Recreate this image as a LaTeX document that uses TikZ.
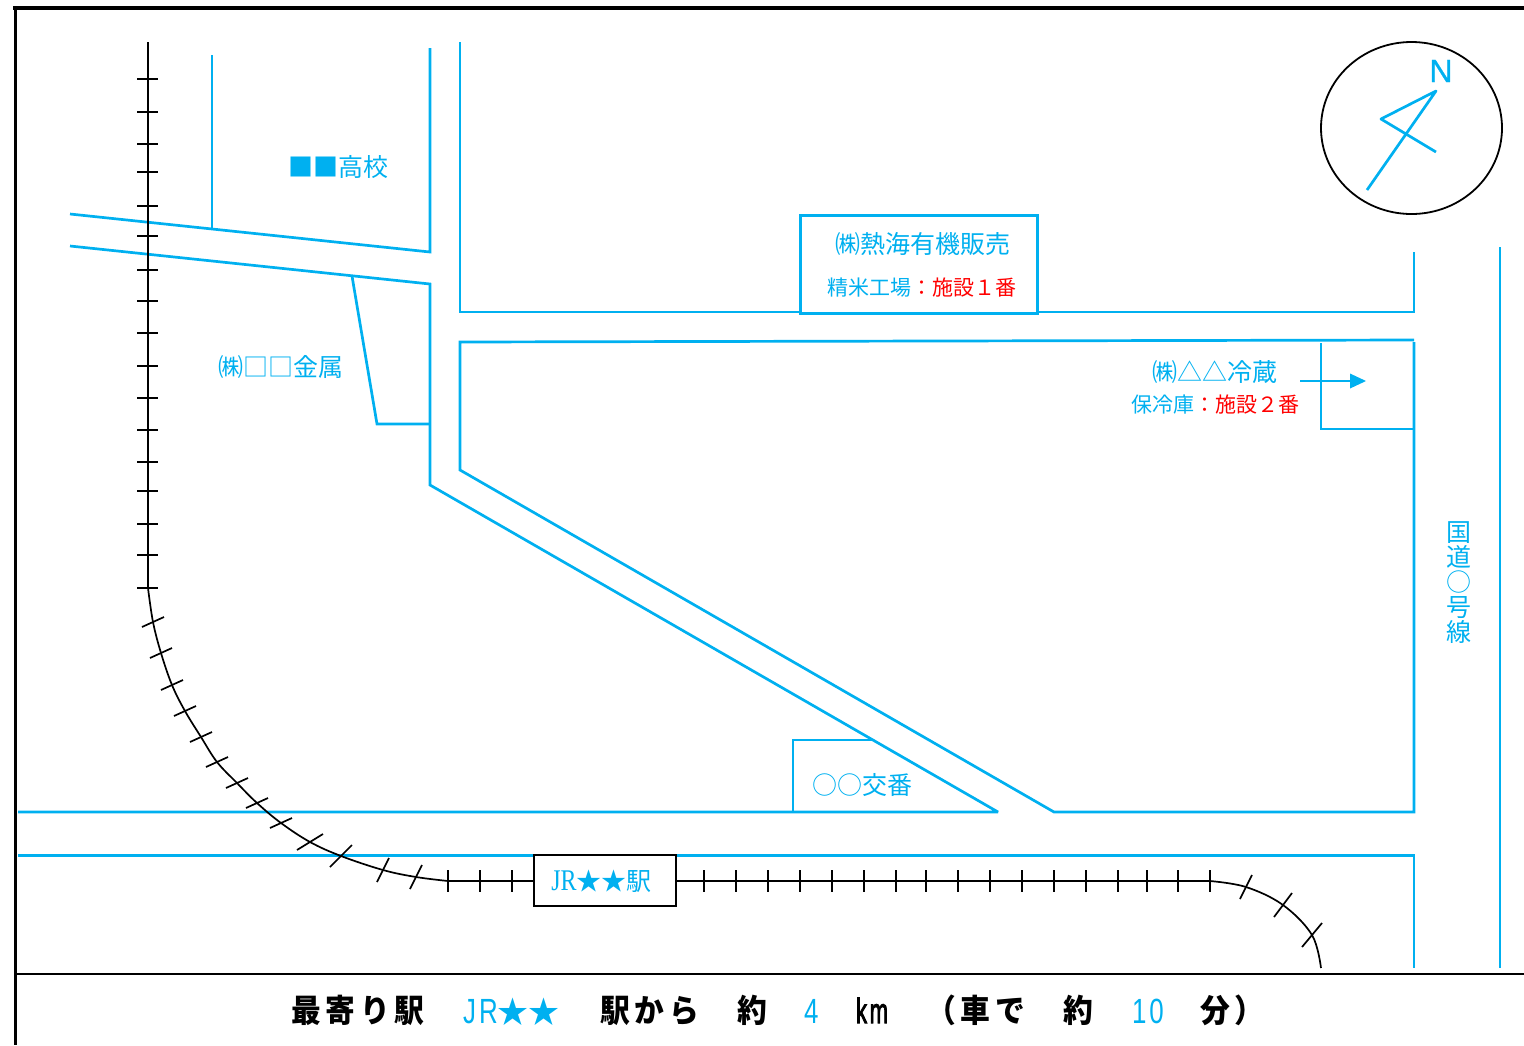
\documentclass[tikz,border=0pt]{standalone}
\usepackage{fontspec}
\usepackage{graphicx}
\usetikzlibrary{shapes.geometric}
\setmainfont{Liberation Serif}
\newfontfamily\jp{Noto Sans CJK JP}
\newfontfamily\jpb[LetterSpace=16]{Noto Sans CJK JP}
\newfontfamily\lat[FakeBold=1]{Liberation Sans}
\newfontfamily\latb[LetterSpace=12]{Liberation Sans}
\newfontfamily\latk[LetterSpace=12,FakeBold=3]{Liberation Sans}
\definecolor{rd}{HTML}{00B0F0}
\definecolor{fac}{HTML}{FF0000}
\newcommand{\ftj}[1]{\scalebox{.93}[1]{\jpb\bfseries\fontsize{32}{32}\selectfont #1}}
\newcommand{\ftl}[1]{\scalebox{.74}[1]{\latb\fontsize{35}{35}\selectfont #1}}
\newcommand{\ftk}[1]{\scalebox{.63}[1]{\latk\fontsize{35}{35}\selectfont #1}}
\begin{document}
\begin{tikzpicture}[x=1pt,y=-1pt,
  road/.style={draw=rd,line width=2.7pt,line join=miter,miter limit=2},
  rail/.style={draw=black,line width=1.7pt},
  frame/.style={draw=black},
  lab/.style={inner sep=0pt,outer sep=0pt,text=rd,font=\jp\fontsize{25}{25}\selectfont},
  sub/.style={inner sep=0pt,outer sep=0pt,text=rd,font=\jp\fontsize{21}{21}\selectfont},
  foot/.style={inner sep=0pt,outer sep=0pt,anchor=base west},
  footb/.style={foot,text=rd}]
\useasboundingbox (0,0) rectangle (1524,1045);
% frame
\draw[frame,line width=4pt] (13,8) -- (1524,8);
\draw[frame,line width=3pt] (15.5,8) -- (15.5,1045);
\draw[frame,line width=2pt] (16,973.5) -- (1524,973.5);
% roads
\draw[road] (212,55) -- (212,228);
\draw[road] (430,48) -- (430,252) -- (70,214);
\draw[road] (70,246) -- (430,284) -- (430,485) -- (998,812) -- (18,812);
\draw[road] (352,276) -- (377,424) -- (430,424);
\draw[road] (460,42) -- (460,312) -- (1414,312) -- (1414,252);
\draw[road] (1414,340) -- (460,342) -- (460,470) -- (1054,812) -- (1414,812) -- (1414,342);
\draw[road] (1321,343) -- (1321,429) -- (1414,429);
\draw[road] (793,812) -- (793,740) -- (873,740);
\draw[road] (18,855.3) -- (1414,855.3) -- (1414,968);
\draw[road] (1500,247) -- (1500,968);
% railway
\draw[rail] (148,42) -- (148,588);
\foreach \y in {79,112,144,172,206,236,270,301,333,366,398,430,462,491,524,555,588}
  \draw[rail] (137,\y) -- (158,\y);
\draw[rail] plot[smooth,tension=.6] coordinates {(148,588) (153,622) (161,653) (172,685) (185,711) (201,737) (217,762) (237,783) (257,803) (281,823) (310,842) (341,856) (383,870) (416,877) (448,881)};
\foreach \x/\y/\a/\b in {153/622/11/5,161/653/11/5,172/685/11/5,185/711/11/5,201/737/11/5,217/762/11/5,237/783/11/5,257/803/11/5,281/823/11/5,310/842/13/8,341/856/11/11,383/870/6/12,416/877/6/12,1246/887/6/12,1283/905/9/12,1312/935/10/12}
  \draw[rail] (\x-\a,\y+\b) -- (\x+\a,\y-\b);
\draw[rail] (448,881) -- (1210,881);
\draw[rail] plot[smooth,tension=.6] coordinates {(1210,881) (1246,887) (1283,905) (1312,935) (1321,968)};
\foreach \x in {448,480,512,704,736,768,800,832,864,896,926,958,990,1022,1054,1086,1118,1147,1178,1210}
  \draw[rail] (\x,870) -- (\x,892);
% boxes
\node[draw=rd,line width=3pt,fill=white,minimum width=237pt,minimum height=98pt,inner sep=0pt] (mill) at (919,264.5) {};
\node[draw=black,line width=1.8pt,fill=white,minimum width=142pt,minimum height=51pt,inner sep=0pt] (sta) at (605,880.5) {};
% labels
\node[lab] (school) at (338,167) {■■高校};
\node[lab] (metal) at (281,367) {㈱□□金属};
\node[lab] (atami) at (923,244) {㈱熱海有機販売};
\node[sub] (fac1) at (921.5,288) {精米工場\textcolor{fac}{：施設１番}};
\node[lab] (cold) at (1215,372) {㈱△△冷蔵};
\node[sub] (fac2) at (1215,405) {保冷庫\textcolor{fac}{：施設２番}};
\node[lab] (koban) at (862,785) {○○交番};
\node[lab,align=center] (route) at (1459,582.5) {国\\道\\○\\号\\線};
\node[lab] (stan) at (601.5,881) {\scalebox{.8}[1]{\rmfamily\fontsize{30}{30}\selectfont JR}★★駅};
% arrow
\coordinate (arA) at (1300,381);
\coordinate (arB) at (1350,381);
\draw[road] (arA) -- (arB);
\fill[rd] (1350,373.5) -- (1366,381) -- (1350,388.5) -- cycle;
% compass
\node[draw=black,line width=1.8pt,ellipse,minimum width=181pt,minimum height=172pt,inner sep=0pt] (dial) at (1411.5,128) {};
\draw[road,line join=round] (1367,190) -- (1436,91) -- (1381,119) -- (1436,152);
\node[inner sep=0pt,text=rd,font=\lat\fontsize{32}{32}\selectfont] (north) at (1441,71) {N};
% foot
\node[foot] (f1) at (291,1022) {\ftj{最寄り駅}};
\node[footb] (f2) at (463,1023) {\ftl{JR}{\jp\fontsize{31}{31}\selectfont ★★}};
\node[foot] (f3) at (600,1022) {\ftj{駅から}};
\node[foot] (f4) at (737,1022) {\ftj{約}};
\node[footb] (f5) at (804,1023) {\ftl{4}};
\node[foot] (f6) at (856,1023) {\ftk{km}};
\node[foot] (f7) at (926,1022) {\ftj{（車で}};
\node[foot] (f8) at (1063,1022) {\ftj{約}};
\node[footb] (f9) at (1132,1023) {\ftl{10}};
\node[foot] (f10) at (1200,1022) {\ftj{分）}};
\end{tikzpicture}
\end{document}
